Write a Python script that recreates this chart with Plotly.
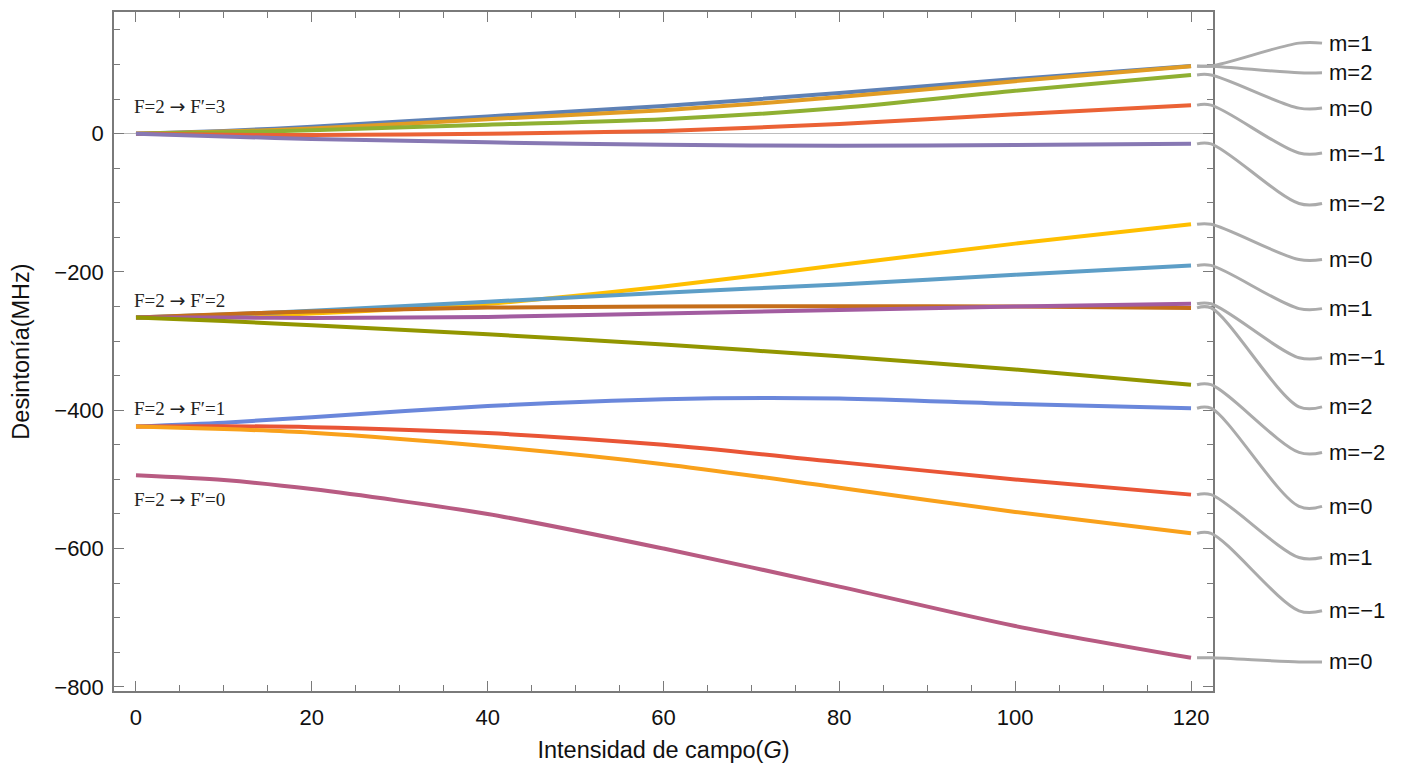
import plotly.graph_objects as go

# ---------------- data ----------------
B = [0, 10, 20, 40, 60, 80, 100, 120]  # field intensity (G)

# F=2 -> F'=3
f3_m1 = [0, 4, 10, 25, 40, 59, 79, 98]
f3_m2 = [0, 3, 7.5, 21, 34, 53, 76, 97.5]
f3_m0 = [0, 2, 5, 13, 21, 37, 62, 85]
f3_mm1 = [0, -1.5, -2, 0, 4, 14, 28, 41.3]
f3_mm2 = [0, -4, -7.5, -12.5, -16, -17.5, -16.5, -14.7]

# F=2 -> F'=2
f2_m0 = [-266, -264, -260, -246, -221, -190, -159, -131]
f2_m1 = [-266, -261.5, -256, -243, -230, -218, -204, -190.5]
f2_mm1 = [-266, -266, -266.5, -265, -260, -255, -250, -246]
f2_m2 = [-266, -261, -257, -251.5, -250, -249.5, -250, -252]
f2_mm2 = [-266, -271, -277, -290, -305, -322, -341, -363]

# F=2 -> F'=1
f1_m0 = [-423.5, -418, -410, -394, -384, -383, -391, -397]
f1_m1 = [-423.5, -423, -424.5, -433, -450, -475, -500, -522]
f1_mm1 = [-423.5, -427, -432.5, -452, -478, -512, -547, -578]

# F=2 -> F'=0
f0_m0 = [-494, -501, -514, -550, -600, -655, -712, -758]

group_labels = ["F=2 <span style='font-family:DejaVu Sans'>→</span> F′=3",
                "F=2 <span style='font-family:DejaVu Sans'>→</span> F′=2",
                "F=2 <span style='font-family:DejaVu Sans'>→</span> F′=1",
                "F=2 <span style='font-family:DejaVu Sans'>→</span> F′=0"]
x_ticks = [0, 20, 40, 60, 80, 100, 120]
y_ticks = [0, -200, -400, -600, -800]
y_tick_text = ["0", "−200", "−400", "−600", "−800"]

# ---------------- styles / layout positions ----------------
curves = [
    (f3_m1, "#5E81B5", "m=1"), (f3_m2, "#E19C24", "m=2"), (f3_m0, "#8FB032", "m=0"),
    (f3_mm1, "#EB6235", "m=−1"), (f3_mm2, "#8778B3", "m=−2"),
    (f2_m0, "#FFBF00", "m=0"), (f2_m1, "#5D9EC7", "m=1"), (f2_m2, "#C56E1A", "m=2"),
    (f2_mm1, "#A25CA0", "m=−1"), (f2_mm2, "#929600", "m=−2"),
    (f1_m0, "#6A87DB", "m=0"), (f1_m1, "#E95536", "m=1"), (f1_mm1, "#F9A11B", "m=−1"),
    (f0_m0, "#B85B82", "m=0"),
]
# label vertical positions (in MHz units) for each callout, same order as `curves`
label_pos = [131, 88, 37, -28, -101, -182, -253, -395, -324, -461, -539, -613, -690, -764]
group_label_y = [40, -241, -397, -528]

W, H = 1408, 774
ml, mt, mb = 114, 12, 83
frame_w = 1099
plot_w = W - ml
dom = frame_w / plot_w
xr = [-2.5, 122.5]
units_per_px = (xr[1] - xr[0]) / frame_w
xr2 = [xr[0], xr[0] + plot_w * units_per_px]
yr = [-806, 176]

FONT = "Arial, Liberation Sans, sans-serif"
FRAME = "#7a7a7a"

fig = go.Figure()

for ys, col, _ in curves:
    fig.add_trace(go.Scatter(x=B, y=ys, mode="lines", line=dict(color=col, width=4, shape="spline", smoothing=0.8),
                             xaxis="x", yaxis="y", showlegend=False, hoverinfo="skip"))

# callouts on the full-width overlay axes
x_start = B[-1] + 6 * units_per_px
x_k1 = B[-1] + 20 * units_per_px
x_k2 = B[-1] + 108 * units_per_px
x_end = B[-1] + 131 * units_per_px
x_lab = B[-1] + 136 * units_per_px
for (ys, col, lab), ly in zip(curves, label_pos):
    y0 = ys[-1]
    fig.add_trace(go.Scatter(x=[x_start, x_k1, x_k2, x_end], y=[y0, y0, ly, ly], mode="lines",
                             line=dict(color="#ababab", width=3, shape="spline", smoothing=1.0),
                             xaxis="x2", yaxis="y2", showlegend=False, hoverinfo="skip"))
    fig.add_annotation(x=x_lab, y=ly, xref="x2", yref="y2", text=lab, showarrow=False,
                       xanchor="left", yanchor="middle", font=dict(family=FONT, size=22, color="#111"))

for txt, gy in zip(group_labels, group_label_y):
    fig.add_annotation(x=-0.5, y=gy, xref="x", yref="y", text=txt, showarrow=False,
                       xanchor="left", yanchor="middle",
                       font=dict(family="Liberation Serif, DejaVu Serif, serif", size=19, color="#222"))

axis_common = dict(showline=True, linecolor=FRAME, linewidth=1.5, mirror="allticks", ticks="inside",
                   tickcolor=FRAME, tickwidth=1.2, ticklen=10, showgrid=False,
                   tickfont=dict(family=FONT, size=22, color="#111"))

fig.update_layout(
    width=W, height=H,
    margin=dict(l=ml, r=0, t=mt, b=mb),
    paper_bgcolor="white", plot_bgcolor="rgba(0,0,0,0)",
    xaxis=dict(domain=[0, dom], range=xr, tickvals=x_ticks, anchor="y",
               minor=dict(ticks="inside", dtick=5, tick0=0, ticklen=6, tickcolor=FRAME, tickwidth=1.2, showgrid=False),
               zeroline=False, ticklabelstandoff=6,
               title=dict(text="Intensidad de campo(<i>G</i>)", font=dict(family=FONT, size=23.5, color="#111"), standoff=12),
               automargin=False, **axis_common),
    yaxis=dict(domain=[0, 1], range=yr, tickvals=y_ticks, ticktext=y_tick_text, anchor="x",
               minor=dict(ticks="inside", dtick=50, tick0=0, ticklen=6, tickcolor=FRAME, tickwidth=1.2, showgrid=False),
               zeroline=True, zerolinecolor="#bdbdbd", zerolinewidth=1.2, ticklabelstandoff=4,
               title=dict(text="Desintonía(MHz)", font=dict(family=FONT, size=23.5, color="#111"), standoff=18),
               automargin=False, **axis_common),
    xaxis2=dict(domain=[0, 1], range=xr2, anchor="y2", visible=False, fixedrange=True),
    yaxis2=dict(domain=[0, 1], range=yr, anchor="x2", visible=False, fixedrange=True),
)

fig.write_html("out.html")
